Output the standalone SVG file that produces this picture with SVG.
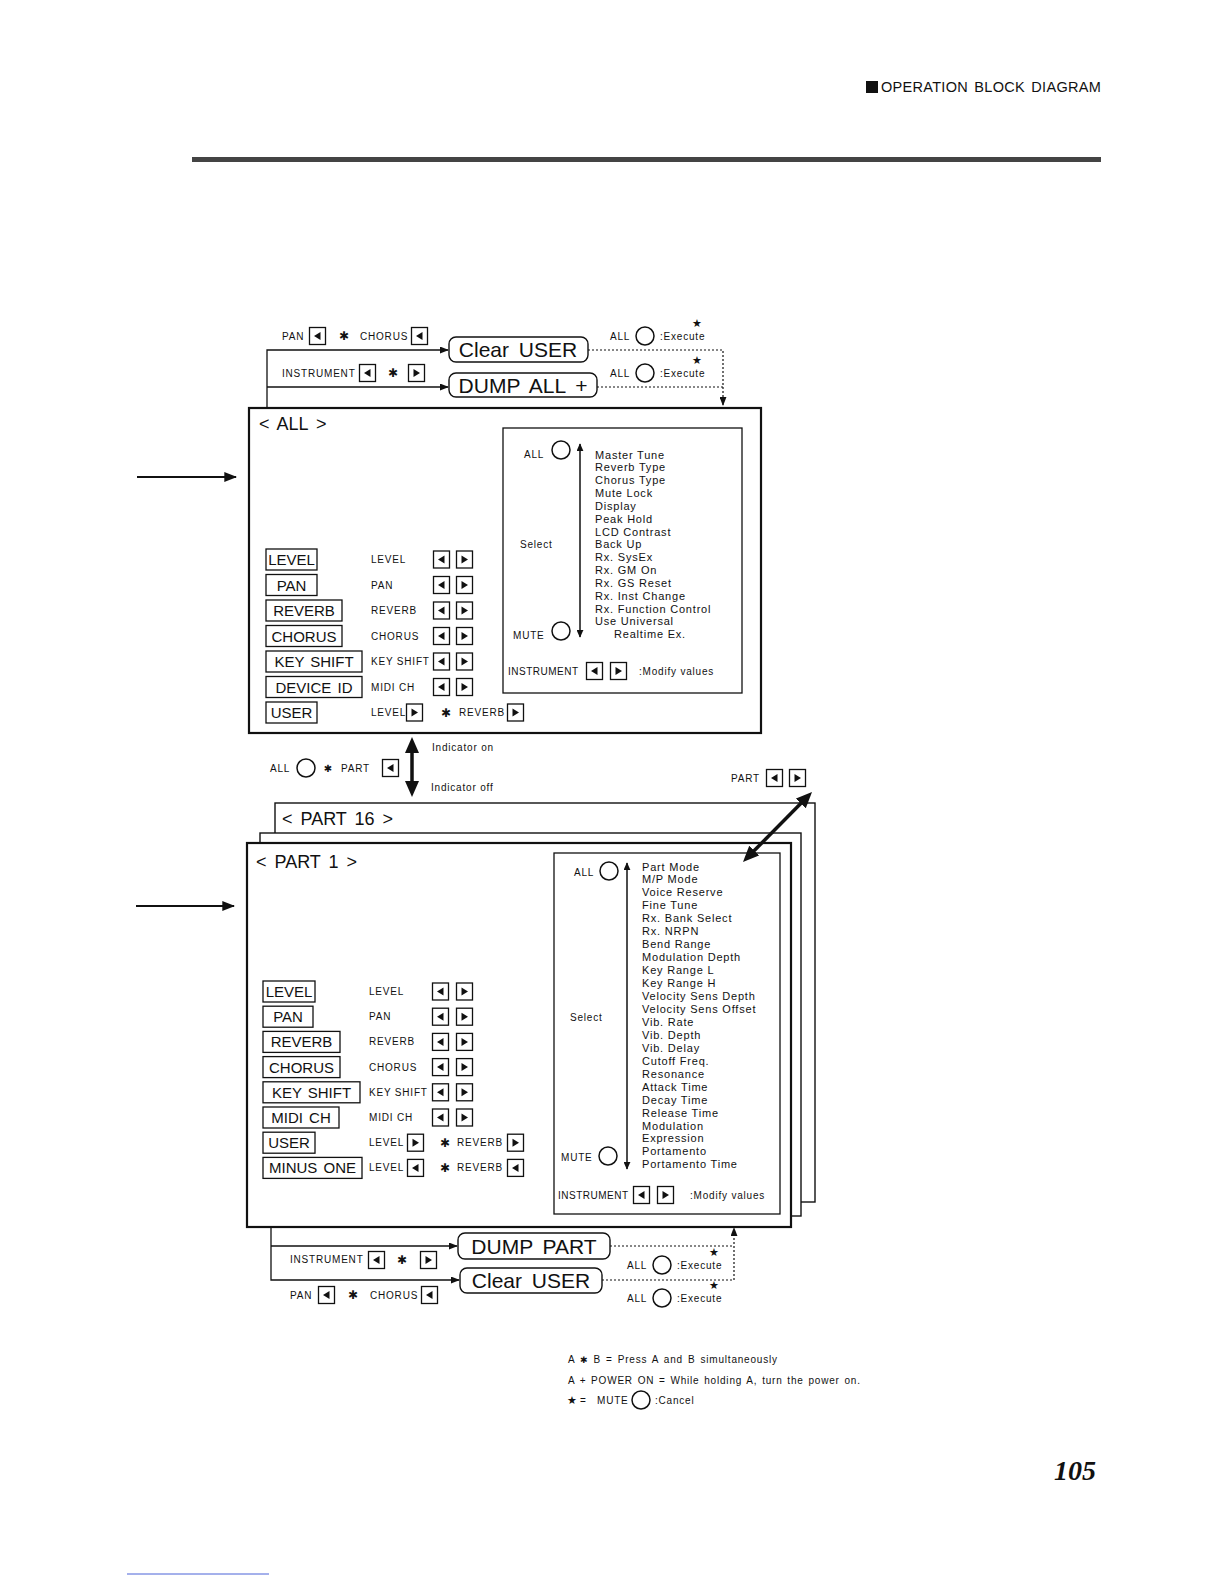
<svg xmlns="http://www.w3.org/2000/svg" width="1224" height="1584" viewBox="0 0 1224 1584">
<defs>
<style>
text{font-family:"Liberation Sans",Arial,sans-serif;fill:#111}
.s{font-size:10px;letter-spacing:0.8px}
.l{font-size:11px;letter-spacing:0.8px}
.big{font-size:21px;word-spacing:4px;text-anchor:middle}
.lb{font-size:15px;text-anchor:middle;word-spacing:2px}
.ttl{font-size:18px;word-spacing:3px}
.sym{font-family:"DejaVu Sans",sans-serif;font-size:12px;text-anchor:middle}
.bx{fill:#fff;stroke:#111;stroke-width:1.3}
.rb{fill:#fff;stroke:#111;stroke-width:1.4}
.fr{fill:#fff;stroke:#111;stroke-width:1.4}
.fr2{fill:#fff;stroke:#111;stroke-width:2.2}
.ln{fill:none;stroke:#111;stroke-width:1.3}
.lw{fill:none;stroke:#111;stroke-width:2}
.dt{fill:none;stroke:#111;stroke-width:1.2;stroke-dasharray:2 2}
.ck{fill:none;stroke:#111;stroke-width:1.5}
.thk{fill:none;stroke:#111;stroke-width:3.5}
</style>
<g id="bL"><rect x="0.5" y="0.5" width="16" height="17" class="bx"/><polygon points="11.5,5 11.5,13 5,9" fill="#111"/></g>
<g id="bR"><rect x="0.5" y="0.5" width="16" height="17" class="bx"/><polygon points="5.5,5 5.5,13 12,9" fill="#111"/></g>
<marker id="arr" viewBox="0 0 10 10" refX="9" refY="5" markerWidth="9" markerHeight="7" preserveAspectRatio="none" orient="auto" markerUnits="userSpaceOnUse"><path d="M0,0 L10,5 L0,10 z" fill="#111"/></marker>
<marker id="arrL" viewBox="0 0 10 10" refX="9" refY="5" markerWidth="13" markerHeight="10" preserveAspectRatio="none" orient="auto" markerUnits="userSpaceOnUse"><path d="M0,0 L10,5 L0,10 z" fill="#111"/></marker>
<marker id="arrS" viewBox="0 0 10 10" refX="9" refY="5" markerWidth="8" markerHeight="7" preserveAspectRatio="none" orient="auto-start-reverse" markerUnits="userSpaceOnUse"><path d="M0,0 L10,5 L0,10 z" fill="#111"/></marker>
<marker id="thkA" viewBox="0 0 10 10" refX="5" refY="5" markerWidth="16" markerHeight="14" preserveAspectRatio="none" orient="auto-start-reverse" markerUnits="userSpaceOnUse"><path d="M0,0 L10,5 L0,10 z" fill="#111"/></marker>
</defs>
<rect width="1224" height="1584" fill="#fff"/>

<g id="header">
<rect x="866" y="81" width="12" height="12" fill="#111"/>
<text x="881" y="92" style="font-size:14.5px;letter-spacing:0.3px;word-spacing:2px">OPERATION BLOCK DIAGRAM</text>
<rect x="192" y="157" width="909" height="5" fill="#444"/>
</g>

<g id="clear-user-all">
<text class="s" x="282" y="340">PAN</text>
<use href="#bL" x="309" y="327"/>
<text class="sym" x="344" y="340">✱</text>
<text class="s" x="360" y="340">CHORUS</text>
<use href="#bL" x="411" y="327"/>
<rect class="rb" x="449" y="337" width="139" height="25" rx="7"/>
<text class="big" x="518" y="357">Clear USER</text>
<text class="s" x="610" y="340">ALL</text>
<circle class="ck" cx="645" cy="336" r="9"/>
<text class="s" x="660" y="340">:Execute</text>
<text class="sym" x="697" y="327" style="font-size:11px">★</text>
</g>

<g id="dump-all">
<text class="s" x="282" y="377">INSTRUMENT</text>
<use href="#bL" x="359" y="364"/>
<text class="sym" x="393" y="377">✱</text>
<use href="#bR" x="408" y="364"/>
<rect class="rb" x="449" y="373" width="148" height="24" rx="7"/>
<text class="big" x="523" y="392.5">DUMP ALL +</text>
<text class="s" x="610" y="377">ALL</text>
<circle class="ck" cx="645" cy="373" r="9"/>
<text class="s" x="660" y="377">:Execute</text>
<text class="sym" x="697" y="364" style="font-size:11px">★</text>
</g>

<g id="all-mode">
<rect class="fr2" x="249" y="408" width="512" height="325"/>
<text class="ttl" x="259" y="430">&lt; ALL &gt;</text>
<rect class="bx" x="266" y="549" width="51" height="21"/><text class="lb" x="291.5" y="565">LEVEL</text>
<rect class="bx" x="266" y="574.5" width="51" height="21"/><text class="lb" x="291.5" y="590.5">PAN</text>
<rect class="bx" x="266" y="600" width="76" height="21"/><text class="lb" x="304" y="616">REVERB</text>
<rect class="bx" x="266" y="625.5" width="76" height="21"/><text class="lb" x="304" y="641.5">CHORUS</text>
<rect class="bx" x="266" y="651" width="96" height="21"/><text class="lb" x="314" y="667">KEY SHIFT</text>
<rect class="bx" x="266" y="676.5" width="96" height="21"/><text class="lb" x="314" y="692.5">DEVICE ID</text>
<rect class="bx" x="266" y="702" width="51" height="21"/><text class="lb" x="291.5" y="718">USER</text>
<text class="s" x="371" y="563">LEVEL</text>
<text class="s" x="371" y="588.5">PAN</text>
<text class="s" x="371" y="614">REVERB</text>
<text class="s" x="371" y="639.5">CHORUS</text>
<text class="s" x="371" y="665">KEY SHIFT</text>
<text class="s" x="371" y="690.5">MIDI CH</text>
<use href="#bL" x="433" y="550.5"/><use href="#bR" x="456" y="550.5"/>
<use href="#bL" x="433" y="576"/><use href="#bR" x="456" y="576"/>
<use href="#bL" x="433" y="601.5"/><use href="#bR" x="456" y="601.5"/>
<use href="#bL" x="433" y="627"/><use href="#bR" x="456" y="627"/>
<use href="#bL" x="433" y="652.5"/><use href="#bR" x="456" y="652.5"/>
<use href="#bL" x="433" y="678"/><use href="#bR" x="456" y="678"/>
<text class="s" x="371" y="716">LEVEL</text>
<use href="#bR" x="406" y="703.5"/>
<text class="sym" x="446" y="716.5">✱</text>
<text class="s" x="459" y="716">REVERB</text>
<use href="#bR" x="507" y="703.5"/>
</g>

<g id="all-params">
<rect class="bx" x="503" y="428" width="239" height="265" style="fill:none"/>
<text class="s" x="524" y="458">ALL</text>
<circle class="ck" cx="561" cy="450" r="9"/>
<path class="ln" d="M580,444 V637" style="stroke-width:1.5" marker-start="url(#arrS)" marker-end="url(#arrS)"/>
<text class="s" x="520" y="548">Select</text>
<text class="s" x="513" y="639">MUTE</text>
<circle class="ck" cx="561" cy="631" r="9"/>
<text class="l" x="595" y="458.5">Master Tune<tspan x="595" dy="12.84">Reverb Type</tspan><tspan x="595" dy="12.84">Chorus Type</tspan><tspan x="595" dy="12.84">Mute Lock</tspan><tspan x="595" dy="12.84">Display</tspan><tspan x="595" dy="12.84">Peak Hold</tspan><tspan x="595" dy="12.84">LCD Contrast</tspan><tspan x="595" dy="12.84">Back Up</tspan><tspan x="595" dy="12.84">Rx. SysEx</tspan><tspan x="595" dy="12.84">Rx. GM On</tspan><tspan x="595" dy="12.84">Rx. GS Reset</tspan><tspan x="595" dy="12.84">Rx. Inst Change</tspan><tspan x="595" dy="12.84">Rx. Function Control</tspan><tspan x="595" dy="12.84">Use Universal</tspan><tspan x="614" dy="12.84">Realtime Ex.</tspan></text>
<text class="s" x="508" y="675" style="letter-spacing:0.5px">INSTRUMENT</text>
<use href="#bL" x="586" y="662"/><use href="#bR" x="610" y="662"/>
<text class="s" x="639" y="675">:Modify values</text>
</g>

<g id="indicator">
<text class="s" x="270" y="772">ALL</text>
<circle class="ck" cx="306" cy="768" r="9"/>
<text class="sym" x="328" y="772" style="font-size:10px">✱</text>
<text class="s" x="341" y="772">PART</text>
<use href="#bL" x="382" y="759"/>
<text class="s" x="432" y="751">Indicator on</text>
<text class="s" x="431" y="791">Indicator off</text>
</g>

<g id="part-select">
<text class="s" x="731" y="782">PART</text>
<use href="#bL" x="766" y="769"/><use href="#bR" x="789" y="769"/>
</g>

<g id="part-16">
<rect class="fr" x="275" y="803" width="540" height="399"/>
<text class="ttl" x="282" y="825">&lt; PART 16 &gt;</text>
</g>
<g id="part-n">
<rect class="fr" x="260" y="833" width="541" height="383"/>
</g>

<g id="part-1">
<rect class="fr2" x="247" y="843" width="544" height="384"/>
<text class="ttl" x="256" y="868">&lt; PART 1 &gt;</text>
<rect class="bx" x="263" y="981" width="52" height="21"/><text class="lb" x="289" y="997">LEVEL</text>
<rect class="bx" x="263" y="1006.2" width="50" height="21"/><text class="lb" x="288" y="1022.2">PAN</text>
<rect class="bx" x="263" y="1031.4" width="77" height="21"/><text class="lb" x="301.5" y="1047.4">REVERB</text>
<rect class="bx" x="263" y="1056.6" width="77" height="21"/><text class="lb" x="301.5" y="1072.6">CHORUS</text>
<rect class="bx" x="263" y="1081.8" width="97" height="21"/><text class="lb" x="311.5" y="1097.8">KEY SHIFT</text>
<rect class="bx" x="263" y="1107" width="76" height="21"/><text class="lb" x="301" y="1123">MIDI CH</text>
<rect class="bx" x="263" y="1132.2" width="52" height="21"/><text class="lb" x="289" y="1148.2">USER</text>
<rect class="bx" x="263" y="1157.4" width="99" height="21"/><text class="lb" x="312.5" y="1173.4">MINUS ONE</text>
<text class="s" x="369" y="995">LEVEL</text>
<text class="s" x="369" y="1020.2">PAN</text>
<text class="s" x="369" y="1045.4">REVERB</text>
<text class="s" x="369" y="1070.6">CHORUS</text>
<text class="s" x="369" y="1095.8">KEY SHIFT</text>
<text class="s" x="369" y="1121">MIDI CH</text>
<use href="#bL" x="432" y="982.5"/><use href="#bR" x="456" y="982.5"/>
<use href="#bL" x="432" y="1007.7"/><use href="#bR" x="456" y="1007.7"/>
<use href="#bL" x="432" y="1032.9"/><use href="#bR" x="456" y="1032.9"/>
<use href="#bL" x="432" y="1058.1"/><use href="#bR" x="456" y="1058.1"/>
<use href="#bL" x="432" y="1083.3"/><use href="#bR" x="456" y="1083.3"/>
<use href="#bL" x="432" y="1108.5"/><use href="#bR" x="456" y="1108.5"/>
<text class="s" x="369" y="1146.2">LEVEL</text>
<use href="#bR" x="407" y="1133.7"/>
<text class="sym" x="445" y="1146.7">✱</text>
<text class="s" x="457" y="1146.2">REVERB</text>
<use href="#bR" x="507" y="1133.7"/>
<text class="s" x="369" y="1171.4">LEVEL</text>
<use href="#bL" x="407" y="1158.9"/>
<text class="sym" x="445" y="1171.9">✱</text>
<text class="s" x="457" y="1171.4">REVERB</text>
<use href="#bL" x="507" y="1158.9"/>
</g>

<g id="part-params">
<rect class="bx" x="554" y="853" width="226" height="361" style="fill:none"/>
<text class="s" x="574" y="876">ALL</text>
<circle class="ck" cx="609" cy="871" r="9"/>
<path class="ln" d="M627,863 V1169" style="stroke-width:1.5" marker-start="url(#arrS)" marker-end="url(#arrS)"/>
<text class="s" x="570" y="1021">Select</text>
<text class="s" x="561" y="1161">MUTE</text>
<circle class="ck" cx="608" cy="1156" r="9"/>
<text class="l" x="642" y="870.5">Part Mode<tspan x="642" dy="12.95">M/P Mode</tspan><tspan x="642" dy="12.95">Voice Reserve</tspan><tspan x="642" dy="12.95">Fine Tune</tspan><tspan x="642" dy="12.95">Rx. Bank Select</tspan><tspan x="642" dy="12.95">Rx. NRPN</tspan><tspan x="642" dy="12.95">Bend Range</tspan><tspan x="642" dy="12.95">Modulation Depth</tspan><tspan x="642" dy="12.95">Key Range L</tspan><tspan x="642" dy="12.95">Key Range H</tspan><tspan x="642" dy="12.95">Velocity Sens Depth</tspan><tspan x="642" dy="12.95">Velocity Sens Offset</tspan><tspan x="642" dy="12.95">Vib. Rate</tspan><tspan x="642" dy="12.95">Vib. Depth</tspan><tspan x="642" dy="12.95">Vib. Delay</tspan><tspan x="642" dy="12.95">Cutoff Freq.</tspan><tspan x="642" dy="12.95">Resonance</tspan><tspan x="642" dy="12.95">Attack Time</tspan><tspan x="642" dy="12.95">Decay Time</tspan><tspan x="642" dy="12.95">Release Time</tspan><tspan x="642" dy="12.95">Modulation</tspan><tspan x="642" dy="12.95">Expression</tspan><tspan x="642" dy="12.95">Portamento</tspan><tspan x="642" dy="12.95">Portamento Time</tspan></text>
<text class="s" x="558" y="1199" style="letter-spacing:0.5px">INSTRUMENT</text>
<use href="#bL" x="633" y="1186"/><use href="#bR" x="657" y="1186"/>
<text class="s" x="690" y="1199">:Modify values</text>
</g>

<g id="dump-part">
<text class="s" x="290" y="1263">INSTRUMENT</text>
<use href="#bL" x="368" y="1251"/>
<text class="sym" x="402" y="1264">✱</text>
<use href="#bR" x="420" y="1251"/>
<rect class="rb" x="458" y="1233" width="152" height="26" rx="7"/>
<text class="big" x="534" y="1253.5">DUMP PART</text>
<text class="s" x="627" y="1269">ALL</text>
<circle class="ck" cx="662" cy="1265" r="9"/>
<text class="s" x="677" y="1269">:Execute</text>
<text class="sym" x="714" y="1256" style="font-size:11px">★</text>
</g>

<g id="clear-user-part">
<text class="s" x="290" y="1299">PAN</text>
<use href="#bL" x="318" y="1286"/>
<text class="sym" x="353" y="1299">✱</text>
<text class="s" x="370" y="1299">CHORUS</text>
<use href="#bL" x="421" y="1286"/>
<rect class="rb" x="460" y="1268" width="142" height="25" rx="7"/>
<text class="big" x="531" y="1288">Clear USER</text>
<text class="s" x="627" y="1302">ALL</text>
<circle class="ck" cx="662" cy="1298" r="9"/>
<text class="s" x="677" y="1302">:Execute</text>
<text class="sym" x="714" y="1289" style="font-size:11px">★</text>
</g>

<g id="connectors">
<path class="lw" d="M137,477 H236" marker-end="url(#arrL)"/>
<path class="lw" d="M136,906 H234" marker-end="url(#arrL)"/>
<path class="ln" d="M267,408 V350 H448" marker-end="url(#arr)"/>
<path class="ln" d="M267,387 H448" marker-end="url(#arr)"/>
<path class="dt" d="M588,350 H723 V405" marker-end="url(#arr)"/>
<path class="dt" d="M597,387 H723"/>
<path class="thk" d="M412,745 V789" marker-start="url(#thkA)" marker-end="url(#thkA)"/>
<path class="thk" d="M806.4,797.7 L748.6,856.3" marker-start="url(#thkA)" marker-end="url(#thkA)"/>
<path class="ln" d="M271,1227 V1280 H459" marker-end="url(#arr)"/>
<path class="ln" d="M271,1246 H457" marker-end="url(#arr)"/>
<path class="dt" d="M610,1246 H734"/>
<path class="dt" d="M602,1280 H734 V1228" marker-end="url(#arr)"/>
</g>

<g id="legend">
<text class="s" x="568" y="1363" style="word-spacing:1.5px">A <tspan class="sym" style="font-size:9px">✱</tspan> B = Press A and B simultaneously</text>
<text class="s" x="568" y="1384" style="word-spacing:1.2px">A + POWER ON = While holding A, turn the power on.</text>
<text class="sym" x="572" y="1404" style="font-size:11px">★</text>
<text class="s" x="580" y="1404">=</text>
<text class="s" x="597" y="1404">MUTE</text>
<circle class="ck" cx="641" cy="1400" r="9"/>
<text class="s" x="655" y="1404">:Cancel</text>
</g>

<g id="page">
<text x="1096" y="1480" style="font-family:'Liberation Serif',serif;font-weight:bold;font-style:italic;font-size:28px;text-anchor:end">105</text>
<line x1="127" y1="1574" x2="269" y2="1574" stroke="#4a63d8" stroke-width="1"/>
</g>
</svg>
